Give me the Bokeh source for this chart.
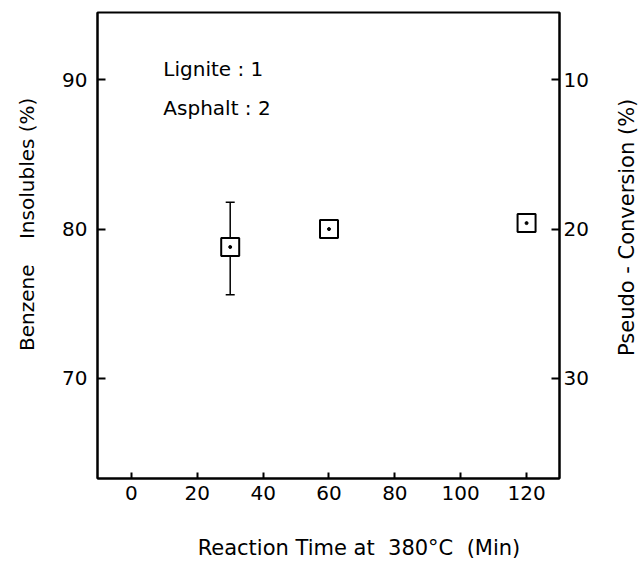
from bokeh.plotting import figure
from bokeh.models import (Range1d, LinearAxis, FixedTicker, Whisker, ColumnDataSource,
                          TeeHead)
from bokeh.core.properties import value
from bokeh.embed import file_html
from bokeh.resources import INLINE
import math

# Benzene insolubles vs. reaction time (Lignite : Asphalt = 1 : 2, 380 C)
time_min = [30, 60, 120]
benzene_insolubles = [78.8, 80.0, 80.4]

# spread of the 30 min run
err_time = [30]
err_upper = [81.8]
err_lower = [75.6]

x_ticks = [0, 20, 40, 60, 80, 100, 120]
left_ticks = [70, 80, 90]
# pseudo-conversion = 100 - benzene insolubles
right_labels = {90: "10", 80: "20", 70: "30"}

notes = ["Lignite : 1", "Asphalt : 2"]
note_x = [9.7, 9.7]
note_y = [90.7, 88.1]

x_title = "Reaction Time at\u00a0\u00a0380°C\u00a0\u00a0(Min)"
left_title = "Benzene\u00a0\u00a0\u00a0\u00a0Insolubles (%)"
right_title = "Pseudo - Conversion (%)"

FONT = "DejaVu Sans"

p = figure(width=641, height=563, frame_width=462, frame_height=466,
           output_backend="svg", toolbar_location=None,
           x_range=Range1d(-10.3, 130), y_range=Range1d(63.3, 94.5),
           min_border_left=97, min_border_right=82, min_border_top=12,
           min_border_bottom=85, x_axis_type=None, y_axis_type=None)
p.background_fill_color = "white"
p.border_fill_color = "white"
p.outline_line_color = "black"
p.outline_line_width = 2
p.grid.visible = False


def style_axis(ax, ticks):
    ax.ticker = FixedTicker(ticks=ticks)
    ax.axis_line_color = "black"
    ax.axis_line_width = 2
    ax.major_tick_in = 8
    ax.major_tick_out = 0
    ax.major_tick_line_width = 2
    ax.minor_tick_line_color = None
    ax.major_label_text_font = FONT
    ax.major_label_text_font_size = "20px"
    ax.major_label_text_color = "black"


def title_axis(tick, text, orientation, standoff, size):
    # a bare axis whose single tick label serves as a title
    ax = LinearAxis(ticker=FixedTicker(ticks=[tick]),
                    major_label_overrides={tick: text})
    ax.axis_line_color = None
    ax.major_tick_line_color = None
    ax.minor_tick_line_color = None
    ax.major_tick_in = 0
    ax.major_tick_out = 0
    ax.major_label_standoff = standoff
    ax.major_label_orientation = orientation
    ax.major_label_text_font = FONT
    ax.major_label_text_font_size = size
    ax.major_label_text_color = "black"
    return ax


xaxis = LinearAxis()
style_axis(xaxis, x_ticks)
xaxis.major_tick_in = 6
xaxis.major_label_standoff = 7
p.add_layout(xaxis, "below")
p.add_layout(title_axis(69.1, x_title, "horizontal", 33, "21px"), "below")

yaxis = LinearAxis()
style_axis(yaxis, left_ticks)
yaxis.major_label_standoff = 10
p.add_layout(yaxis, "left")
p.add_layout(title_axis(88.8, left_title, math.pi / 2, 32, "20px"), "left")

raxis = LinearAxis()
style_axis(raxis, left_ticks)
raxis.major_label_overrides = right_labels
raxis.major_label_standoff = 4
p.add_layout(raxis, "right")
p.add_layout(title_axis(71.5, right_title, math.pi / 2, 36, "21px"), "right")

# error bar
src_err = ColumnDataSource(dict(x=err_time, upper=err_upper, lower=err_lower))
p.add_layout(Whisker(source=src_err, base="x", upper="upper", lower="lower",
                     dimension="height", line_color="black", line_width=1.5,
                     upper_head=TeeHead(size=9, line_width=1.5),
                     lower_head=TeeHead(size=9, line_width=1.5)))

# open squares with a centre dot
p.scatter(time_min, benzene_insolubles, marker="square", size=18,
          fill_color="white", line_color="black", line_width=2)
p.scatter(time_min, benzene_insolubles, marker="circle", size=3,
          fill_color="black", line_color="black")

p.text(note_x, note_y, text=notes, text_font=value(FONT), text_font_size="20px",
       text_baseline="middle", text_align="left", text_color="black")

open("out.html", "w").write(file_html(p, INLINE))
